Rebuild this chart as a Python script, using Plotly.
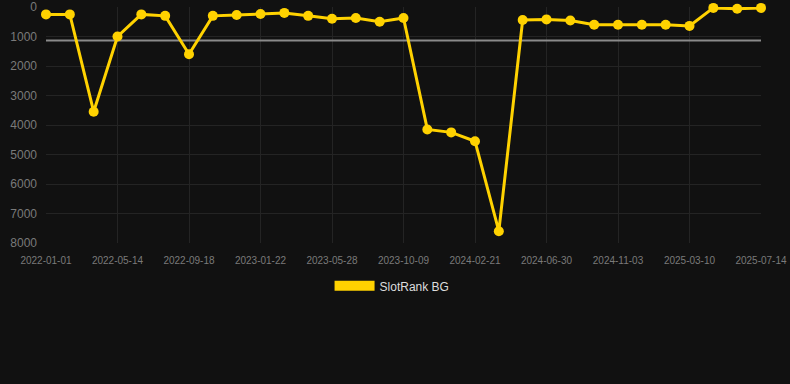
import plotly.graph_objects as go

dates = [
    "2022-01-01", "2022-02-14", "2022-03-30",
    "2022-05-14", "2022-06-25", "2022-08-06",
    "2022-09-18", "2022-10-30", "2022-12-11",
    "2023-01-22", "2023-03-05", "2023-04-16",
    "2023-05-28", "2023-07-11", "2023-08-26",
    "2023-10-09", "2023-11-23", "2024-01-07",
    "2024-02-21", "2024-04-03", "2024-05-17",
    "2024-06-30", "2024-08-11", "2024-09-22",
    "2024-11-03", "2024-12-15", "2025-01-27",
    "2025-03-10", "2025-04-21", "2025-06-02",
    "2025-07-14",
]
ranks = [
    250, 250, 3550, 1000, 250, 300, 1600, 300, 270, 240, 200,
    300, 400, 370, 500, 370, 4150, 4250, 4550, 7600, 440, 420,
    460, 600, 600, 600, 600, 640, 30, 60, 30,
]
tick_labels = dates[::3]
mean_rank = sum(ranks) / len(ranks)

GOLD = "#FFD200"
BG = "#111111"
GRID = "#242424"
TICK = "#7a7a7a"

fig = go.Figure()
fig.add_trace(go.Scatter(
    x=[dates[0], dates[-1]], y=[mean_rank, mean_rank], mode="lines",
    line=dict(color="#8a8a8a", width=2), hoverinfo="skip", showlegend=False,
))
fig.add_trace(go.Scatter(
    x=dates, y=ranks, mode="lines+markers", name="SlotRank BG",
    line=dict(color=GOLD, width=3), marker=dict(color=GOLD, size=10),
    cliponaxis=False, showlegend=False,
))
# legend entry
fig.add_trace(go.Scatter(
    x=[None], y=[None], mode="lines", name="SlotRank BG",
    line=dict(color=GOLD, width=12), showlegend=True,
))

fig.update_layout(
    width=790, height=384,
    margin=dict(l=46, r=29, t=7, b=141),
    paper_bgcolor=BG, plot_bgcolor=BG,
    font=dict(family="Liberation Sans, Arial, sans-serif", color=TICK),
    legend=dict(orientation="h", x=0.484, xanchor="center", y=-0.12, yanchor="top",
                font=dict(color="#dddddd", size=12), itemwidth=40,
                bgcolor="rgba(0,0,0,0)"),
    xaxis=dict(type="category", categoryorder="array", categoryarray=dates,
               range=[0, len(dates) - 1], automargin=False,
               tickmode="array", tickvals=tick_labels, ticktext=tick_labels,
               showgrid=True, gridcolor=GRID, gridwidth=1, zeroline=False,
               showline=False, tickfont=dict(size=10, color=TICK),
               ticks="", ticklabelstandoff=10),
    yaxis=dict(range=[8000, 0], tickvals=[0, 1000, 2000, 3000, 4000, 5000, 6000, 7000, 8000],
               automargin=False,
               showgrid=True, gridcolor=GRID, gridwidth=1, zeroline=False,
               showline=False, tickfont=dict(size=12, color=TICK),
               ticks="", ticklabelstandoff=8),
)

fig.write_html("out.html")
